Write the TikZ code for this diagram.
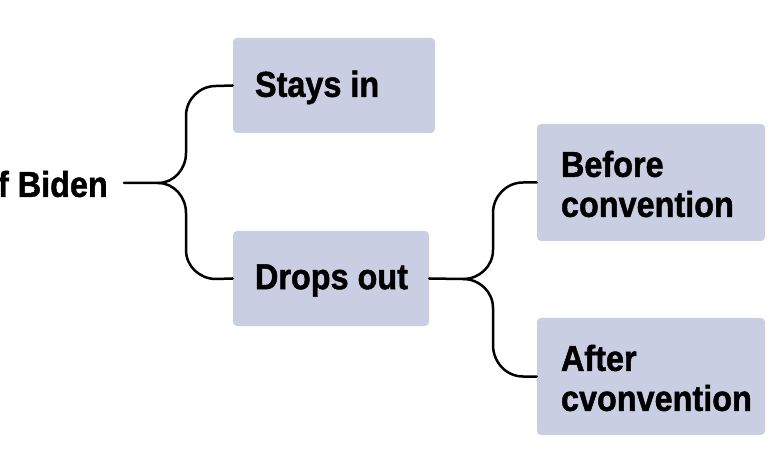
\documentclass[tikz,border=0pt]{standalone}
\usepackage{fontspec}
\setmainfont{Liberation Sans}[FakeStretch=0.9, FakeBold=1.3]
\definecolor{boxfill}{HTML}{C9CEE2}
\tikzset{
  choice/.style={fill=boxfill, rounded corners=4bp, inner sep=0pt, anchor=center},
  label/.style={anchor=west, inner sep=0pt, align=left,
    font=\bfseries\fontsize{36bp}{40bp}\selectfont},
  branch/.style={line width=2.5bp, black, line cap=round}
}
\begin{document}
\begin{tikzpicture}[x=1bp,y=-1bp]
\useasboundingbox (0,0) rectangle (780,470);
\node[anchor=east, inner sep=0pt, font=\bfseries\fontsize{36bp}{40bp}\selectfont] (biden) at (108,184) {f Biden};
\node[choice, minimum width=202bp, minimum height=95bp] (stays) at (334,85.5) {};
\node[choice, minimum width=196bp, minimum height=95bp] (drops) at (331,278.5) {};
\node[choice, minimum width=228bp, minimum height=117bp] (before) at (651,182.5) {};
\node[choice, minimum width=228bp, minimum height=117bp] (after) at (651,376.5) {};
\node[label] (tstays) at ([xshift=22bp,yshift=-2bp]stays.west) {Stays in};
\node[label] (tdrops) at ([xshift=22bp,yshift=-2bp]drops.west) {Drops out};
\node[label] (tbefore) at ([xshift=24bp,yshift=-1.5bp]before.west) {Before\\convention};
\node[label] (tafter) at ([xshift=24bp,yshift=-1.5bp]after.west) {After\\cvonvention};
\coordinate (j1) at (158,183);
\coordinate (j2) at (463,279);
\draw[branch] ([xshift=16bp,yshift=1bp]biden.east) -- (j1)
  to[out=0,in=-90] (186,153) -- (186,116) to[out=90,in=180] (216,86) -- (stays.west);
\draw[branch] (j1)
  to[out=0,in=90] (186,213) -- (186,250) to[out=-90,in=180] (216,279) -- (drops.west);
\draw[branch] (drops.east) -- (j2)
  to[out=0,in=-90] (493,250) -- (493,213) to[out=90,in=180] (523,182.5) -- (before.west);
\draw[branch] (j2)
  to[out=0,in=90] (493,308) -- (493,345) to[out=-90,in=180] (523,376.5) -- (after.west);
\end{tikzpicture}
\end{document}
